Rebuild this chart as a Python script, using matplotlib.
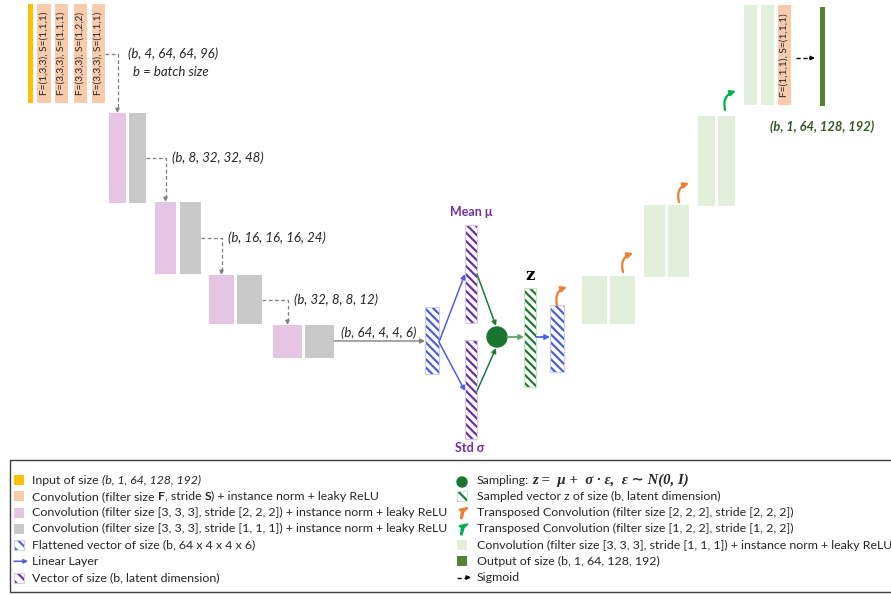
import matplotlib
matplotlib.use('Agg')
import matplotlib.pyplot as plt
from matplotlib.patches import Rectangle, Circle, FancyArrowPatch, Polygon

# ---------------------
# TEXT CONTENT
# ---------------------
conv_labels = ['F=(1,3,3), S=(1,1,1)', 'F=(3,3,3), S=(1,1,1)',
               'F=(3,3,3), S=(1,2,2)', 'F=(3,3,3), S=(1,1,1)']
final_conv_label = 'F=(1,1,1), S=(1,1,1)'
shape_labels = ['(b, 4, 64, 64, 96)', '(b, 8, 32, 32, 48)',
                '(b, 16, 16, 16, 24)', '(b, 32, 8, 8, 12)']
flat_label = '(b, 64, 4, 4, 6)'
output_label = '(b, 1, 64, 128, 192)'

# ---------------------
# LAYOUT (pixel coords, y down)
# ---------------------
input_bar = (28, 4, 33, 103)
conv_x = [(37, 51), (55, 68), (74, 87), (92, 105)]
conv_y = (4, 103)

enc_pink_x = [(109, 126), (155, 176), (209, 234), (273, 302)]
enc_gray_x = [(129, 146), (180, 201), (237, 262), (305, 334)]
enc_y = [(113, 203), (202, 274), (275, 324), (325, 358)]

dec_a_x = [(582, 607), (644, 665), (698, 715), (744, 757)]
dec_b_x = [(610, 635), (668, 689), (718, 735), (761, 774)]
dec_y = [(276, 324), (205, 277), (116, 206), (5, 105)]
final_conv = (778, 5, 791, 105)
output_bar = (820, 7, 825, 106)

# curved upsampling arrows (start, end, kind)
up_arrows = [((557, 305), (567, 287), 'orange'),
             ((623, 272), (633, 253), 'orange'),
             ((679, 202), (689, 183), 'orange'),
             ((725, 110), (736, 91), 'green')]

C_YELLOW = '#FFC000'
C_ORANGE = '#F8CBAD'
C_PINK = '#E6C4E3'
C_GRAY = '#C9C9C9'
C_LGREEN = '#E2EFDA'
C_DGREEN = '#548235'
C_BLUE = '#4F5FDC'
C_BLUE_EDGE = '#CACEF4'
C_PURPLE = '#7030A0'
C_PURPLE_EDGE = '#D8C8EA'
C_ZGREEN = '#1E7B34'
C_ZGREEN_EDGE = '#C8E2CC'
C_CIRCLE = '#1A7530'
C_UP_ORANGE = '#ED7D31'
C_UP_GREEN = '#00B050'
C_DASH = '#7F7F7F'
C_TEXT = '#262626'

FS_LEGEND = 8.9
FS_NOTE = 9.5

plt.rcParams['font.family'] = ['Lato', 'DejaVu Sans']
plt.rcParams['hatch.linewidth'] = 1.6

fig = plt.figure(figsize=(8.91, 5.95), dpi=100)
ax = fig.add_axes([0, 0, 1, 1])
ax.set_xlim(0, 891)
ax.set_ylim(595, 0)
ax.axis('off')
renderer = fig.canvas.get_renderer()


def box(x0, y0, x1, y1, color, **kw):
    ax.add_patch(Rectangle((x0, y0), x1 - x0, y1 - y0, facecolor=color,
                           edgecolor='none', **kw))


def hatched(x0, y0, x1, y1, hcolor, border, hatch='\\\\\\\\'):
    ax.add_patch(Rectangle((x0, y0), x1 - x0, y1 - y0, facecolor='white',
                           edgecolor=hcolor, lw=0, hatch=hatch))
    ax.add_patch(Rectangle((x0, y0), x1 - x0, y1 - y0, facecolor='none',
                           edgecolor=border, lw=0.8))


def arrow(p0, p1, color, lw=1.0, rad=0.0, head=7):
    ax.add_patch(FancyArrowPatch(p0, p1, arrowstyle='-|>', mutation_scale=head,
                                 color=color, lw=lw, shrinkA=0, shrinkB=0,
                                 connectionstyle=f'arc3,rad={rad}'))


def dashed_arrow(points, color, lw=0.9, head=6):
    xs = [p[0] for p in points]
    ys = [p[1] for p in points]
    # stop dashes a bit before the end, then a solid head
    (xa, ya), (xb, yb) = points[-2], points[-1]
    L = ((xb - xa) ** 2 + (yb - ya) ** 2) ** 0.5
    k = max(L - 5, 0) / L
    xs[-1] = xa + (xb - xa) * k
    ys[-1] = ya + (yb - ya) * k
    ax.plot(xs, ys, color=color, lw=lw, ls=(0, (3, 2)), solid_capstyle='butt')
    arrow((xs[-1], ys[-1]), (xb, yb), color, lw=lw, head=head)


def text_w(s, **kw):
    t = ax.text(0, 0, s, **kw)
    bb = t.get_window_extent(renderer)
    t.remove()
    return bb.width


def rich(x, y, parts, size=FS_LEGEND, color=C_TEXT):
    sw = text_w('a a', fontsize=size) - text_w('aa', fontsize=size)
    for s, kw in parts:
        kw = dict(kw)
        fs = kw.pop('fontsize', size)
        lead = len(s) - len(s.lstrip(' '))
        trail = len(s) - len(s.rstrip(' '))
        x += lead * sw
        core = s.strip(' ')
        if core:
            t = ax.text(x, y, core, fontsize=fs, color=color, va='center',
                        ha='left', **kw)
            bb = t.get_window_extent(renderer)
            x = ax.transData.inverted().transform((bb.x1, bb.y0))[0]
        x += trail * sw
    return x


# ---------------------
# ENCODER
# ---------------------
box(*input_bar, C_YELLOW)
for (x0, x1), lab in zip(conv_x, conv_labels):
    box(x0, conv_y[0], x1, conv_y[1], C_ORANGE)
    ax.text((x0 + x1) / 2, (conv_y[0] + conv_y[1]) / 2, lab, rotation=90,
            ha='center', va='center', fontsize=7.3, color=C_TEXT)

for (px0, px1), (gx0, gx1), (y0, y1) in zip(enc_pink_x, enc_gray_x, enc_y):
    box(px0, y0, px1, y1, C_PINK)
    box(gx0, y0, gx1, y1, C_GRAY)

# dashed connectors between stages
src = [(conv_x[-1][1], sum(conv_y) / 2)] + \
      [(gx1, (y0 + y1) / 2) for (gx0, gx1), (y0, y1) in zip(enc_gray_x[:-1], enc_y[:-1])]
for i, (sx, sy) in enumerate(src):
    tx = sum(enc_pink_x[i]) / 2
    ty = enc_y[i][0]
    dashed_arrow([(sx, sy), (tx, sy), (tx, ty)], C_DASH)
    dx = 11 if i == 0 else 7
    ax.text(tx + dx, sy, shape_labels[i], fontsize=FS_NOTE, style='italic',
            color=C_TEXT, ha='left', va='center')
ax.text(133, 72, 'b = batch size', fontsize=FS_NOTE, style='italic',
        color=C_TEXT, ha='left', va='center')

# ---------------------
# LATENT SPACE
# ---------------------
flat = (425, 307, 439, 374)
mean_bar = (465, 225, 477, 323)
std_bar = (465, 340, 477, 439)
z_bar = (524, 288, 536, 387)
dec_vec = (550, 305, 564, 372)
circ = (497, 337, 10)

arrow((enc_gray_x[-1][1], 341), (flat[0], 341), '#808080', lw=1.0, head=7)
ax.text(341, 333, flat_label, fontsize=FS_NOTE, style='italic', color=C_TEXT,
        ha='left', va='center')

hatched(*flat, C_BLUE, C_BLUE_EDGE)
hatched(*mean_bar, C_PURPLE, C_PURPLE_EDGE)
hatched(*std_bar, C_PURPLE, C_PURPLE_EDGE)
hatched(*z_bar, C_ZGREEN, C_ZGREEN_EDGE)
hatched(*dec_vec, C_BLUE, C_BLUE_EDGE)
ax.add_patch(Circle(circ[:2], circ[2], color=C_CIRCLE))

arrow((flat[2], 342), (mean_bar[0], 274), C_BLUE, lw=1.1)
arrow((flat[2], 342), (std_bar[0], 391), C_BLUE, lw=1.1)
arrow((mean_bar[2], 274), (496, 326), C_ZGREEN, lw=1.1)
arrow((std_bar[2], 391), (496, 348), C_ZGREEN, lw=1.1)
arrow((circ[0] + circ[2], 337), (z_bar[0], 337), '#5FA36C', lw=1.3)
arrow((z_bar[2], 337), (dec_vec[0], 337), C_BLUE, lw=1.3)

ax.text(471, 212, 'Mean μ', fontsize=9, weight='bold', color=C_PURPLE,
        ha='center', va='center')
ax.text(470, 448, 'Std σ', fontsize=9, weight='bold', color=C_PURPLE,
        ha='center', va='center')
ax.text(530, 275, 'z', fontsize=12, weight='bold', family='DejaVu Serif',
        color='black', ha='center', va='center')

# ---------------------
# DECODER
# ---------------------
for (ax0, ax1), (bx0, bx1), (y0, y1) in zip(dec_a_x, dec_b_x, dec_y):
    box(ax0, y0, ax1, y1, C_LGREEN)
    box(bx0, y0, bx1, y1, C_LGREEN)
box(*final_conv, C_ORANGE)
ax.text((final_conv[0] + final_conv[2]) / 2, (final_conv[1] + final_conv[3]) / 2,
        final_conv_label, rotation=90, ha='center', va='center', fontsize=7.3,
        color=C_TEXT)
box(*output_bar, C_DGREEN)

for p0, p1, kind in up_arrows:
    col = C_UP_ORANGE if kind == 'orange' else C_UP_GREEN
    arrow(p0, p1, col, lw=1.6, rad=-0.45, head=8)

dashed_arrow([(796, 58), (815, 58)], 'black', lw=1.0)
ax.text(822, 127, output_label, fontsize=9.3, weight='bold', style='italic',
        color='#385723', ha='center', va='center')

# ---------------------
# LEGEND
# ---------------------
ax.add_patch(Rectangle((10, 460), 900, 132, facecolor='none',
                       edgecolor='#404040', lw=1.0))
rows = [480, 496.3, 512.5, 528.8, 545, 561.3, 577.5]
lx, ltx = 14, 32
rx, rtx = 457, 477

for y, c in zip(rows[:4], [C_YELLOW, C_ORANGE, C_PINK, C_GRAY]):
    box(lx, y - 5, lx + 10, y + 5, c)
hatched(lx, rows[4] - 5, lx + 10, rows[4] + 5, C_BLUE, C_BLUE_EDGE, hatch='\\\\\\')
arrow((lx, rows[5]), (lx + 14, rows[5]), C_BLUE, lw=1.1, head=6)
hatched(lx, rows[6] - 5, lx + 10, rows[6] + 5, C_PURPLE, C_PURPLE_EDGE, hatch='\\\\\\')

it = {'style': 'italic'}
bf = {'weight': 'bold'}
rich(ltx, rows[0], [('Input of size ', {}), ('(b, 1, 64, 128, 192)', it)])
rich(ltx, rows[1], [('Convolution (filter size ', {}), ('F', bf), (', stride ', {}),
                    ('S', bf), (') + instance norm + leaky ReLU', {})])
rich(ltx, rows[2], [('Convolution (filter size [3, 3, 3], stride [2, 2, 2]) + instance norm + leaky ReLU', {})])
rich(ltx, rows[3], [('Convolution (filter size [3, 3, 3], stride [1, 1, 1]) + instance norm + leaky ReLU', {})])
rich(ltx, rows[4], [('Flattened vector of size (b, 64 x 4 x 4 x 6)', {})])
rich(ltx, rows[5], [('Linear Layer', {})])
rich(ltx, rows[6], [('Vector of size (b, latent dimension)', {})])

# right column markers
ax.add_patch(Circle((462, rows[0] + 2), 5, color=C_CIRCLE))
hatched(rx, rows[1] - 5, rx + 10, rows[1] + 5, C_ZGREEN, C_ZGREEN_EDGE, hatch='\\\\')
for y, col in zip(rows[2:4], [C_UP_ORANGE, C_UP_GREEN]):
    ax.add_patch(Polygon([(459, y - 3), (468, y - 5), (464, y - 1), (462, y + 6),
                          (460.5, y + 6), (461.5, y - 1)], closed=True, color=col))
box(rx, rows[4] - 5, rx + 10, rows[4] + 5, C_LGREEN)
box(rx, rows[5] - 5, rx + 10, rows[5] + 5, C_DGREEN)
dashed_arrow([(457, rows[6]), (471, rows[6])], 'black', lw=1.0, head=6)

formula = 'z =  μ +  σ · ε,  ε ∼ N(0, I)'
rich(rtx, rows[0], [('Sampling: ', {}),
                    (formula, {'family': ['Liberation Serif', 'DejaVu Serif'],
                               'weight': 'bold', 'style': 'italic',
                               'fontsize': 10.6})])
rich(rtx, rows[1], [('Sampled vector z of size (b, latent dimension)', {})])
rich(rtx, rows[2], [('Transposed Convolution (filter size [2, 2, 2], stride [2, 2, 2])', {})])
rich(rtx, rows[3], [('Transposed Convolution (filter size [1, 2, 2], stride [1, 2, 2])', {})])
rich(rtx, rows[4], [('Convolution (filter size [3, 3, 3], stride [1, 1, 1]) + instance norm + leaky ReLU', {})])
rich(rtx, rows[5], [('Output of size (b, 1, 64, 128, 192)', {})])
rich(rtx, rows[6], [('Sigmoid', {})])

fig.savefig('out.png', dpi=100)
